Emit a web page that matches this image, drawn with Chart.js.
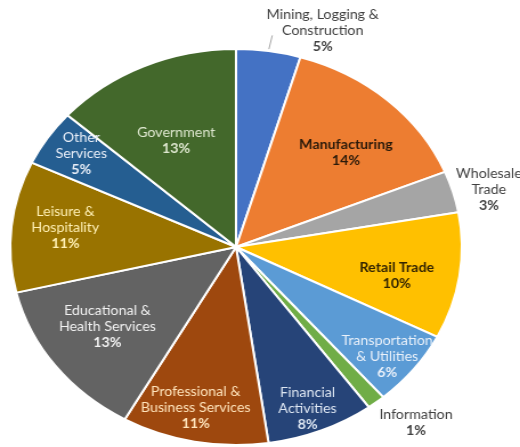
<!DOCTYPE html>
<html>
<head>
<meta charset="utf-8">
<script src="https://cdn.jsdelivr.net/npm/chart.js@4"></script>
<style>
  html, body { margin: 0; padding: 0; background: #fff; overflow: hidden; }
  #wrap { width: 456px; height: 447px; transform: scaleX(1.1404); transform-origin: 0 0; }
</style>
</head>
<body>
<div id="wrap"><canvas id="myChart" width="456" height="447"></canvas></div>
<script>
// sector names (one line per entry), shares and the printed percentages
var sectors = [
  ["Mining, Logging &", "Construction"],
  ["Manufacturing"],
  ["Wholesale", "Trade"],
  ["Retail Trade"],
  ["Transportation", "& Utilities"],
  ["Information"],
  ["Financial", "Activities"],
  ["Professional &", "Business Services"],
  ["Educational &", "Health Services"],
  ["Leisure &", "Hospitality"],
  ["Other", "Services"],
  ["Government"]
];
var shares = [4.6, 14.2, 3.4, 10.3, 6.2, 1.3, 7.7, 10.5, 13.1, 10.7, 4.6, 13.4];
var pctLabels = ["5%", "14%", "3%", "10%", "6%", "1%", "8%", "11%", "13%", "11%", "5%", "13%"];

var sliceColors = ["#4472C4", "#ED7D31", "#A5A5A5", "#FFC000", "#5B9BD5", "#70AD47",
                   "#264478", "#9E480E", "#636363", "#997300", "#255E91", "#43682B"];
var textColors = ["#404040", "#2a1a0a", "#404040", "#332400", "#eaf1fa", "#404040",
                  "#dde6f2", "#ffe4bc", "#f2f2f2", "#fff0b4", "#e8eef8", "#dfe8d0"];
var textBold = [false, true, false, true, false, false, false, false, false, false, false, false];
// radial fraction of the outer radius, then a small nudge in px
var labelPlace = [
  [1.12, 44, 3], [0.68, 6, 6], [1.15, 3, 6], [0.73, -2, 8],
  [0.87, -3, 4], [1.195, 11, -10], [0.88, -3, 1], [0.834, -5, -1],
  [0.70, -2, -3], [0.76, 0, -3], [0.834, 2, -2], [0.60, -4, 2]
];

var labelPlugin = {
  id: "sliceLabels",
  afterDatasetsDraw: function (chart) {
    var ctx = chart.ctx;
    var meta = chart.getDatasetMeta(0);
    meta.data.forEach(function (arc, i) {
      var p = arc.getProps(["x", "y", "startAngle", "endAngle", "outerRadius"], true);
      var mid = (p.startAngle + p.endAngle) / 2;
      var pl = labelPlace[i];
      var cx = p.x + Math.cos(mid) * p.outerRadius * pl[0] + pl[1];
      var cy = p.y + Math.sin(mid) * p.outerRadius * pl[0] + pl[2];
      var lines = sectors[i].concat([pctLabels[i]]);
      var lh = 16;
      ctx.save();
      ctx.fillStyle = textColors[i];
      ctx.textAlign = "center";
      ctx.textBaseline = "middle";
      lines.forEach(function (t, k) {
        var isPct = k == lines.length - 1;
        ctx.font = ((textBold[i] || isPct) ? "bold " : "") + "12.5px Lato, 'Open Sans', sans-serif";
        ctx.fillText(t, cx, cy + (k - (lines.length - 1) / 2) * lh);
      });
      ctx.restore();
    });
    // leader line for the mining slice
    var a = meta.data[0].getProps(["x", "y", "startAngle", "endAngle", "outerRadius"], true);
    var m = (a.startAngle + a.endAngle) / 2;
    ctx.save();
    ctx.strokeStyle = "#a6a6a6";
    ctx.lineWidth = 1;
    ctx.beginPath();
    ctx.moveTo(a.x + Math.cos(m) * a.outerRadius * 1.01, a.y + Math.sin(m) * a.outerRadius * 1.01);
    ctx.lineTo(a.x + Math.cos(m) * a.outerRadius * 1.08 + 1, a.y + Math.sin(m) * a.outerRadius * 1.08);
    ctx.stroke();
    ctx.restore();
  }
};

var ctx = document.getElementById("myChart").getContext("2d");
var chart = new Chart(ctx, {
  type: "pie",
  data: {
    labels: sectors.map(function (s) { return s.join(" "); }),
    datasets: [{
      data: shares,
      backgroundColor: sliceColors,
      borderColor: "#ffffff",
      borderWidth: 2
    }]
  },
  options: {
    responsive: false,
    devicePixelRatio: 1,
    animation: false,
    layout: { padding: { left: 0, right: 42, top: 48, bottom: 1 } },
    plugins: {
      legend: { display: false },
      tooltip: { enabled: false }
    }
  },
  plugins: [labelPlugin]
});
</script>
</body>
</html>
